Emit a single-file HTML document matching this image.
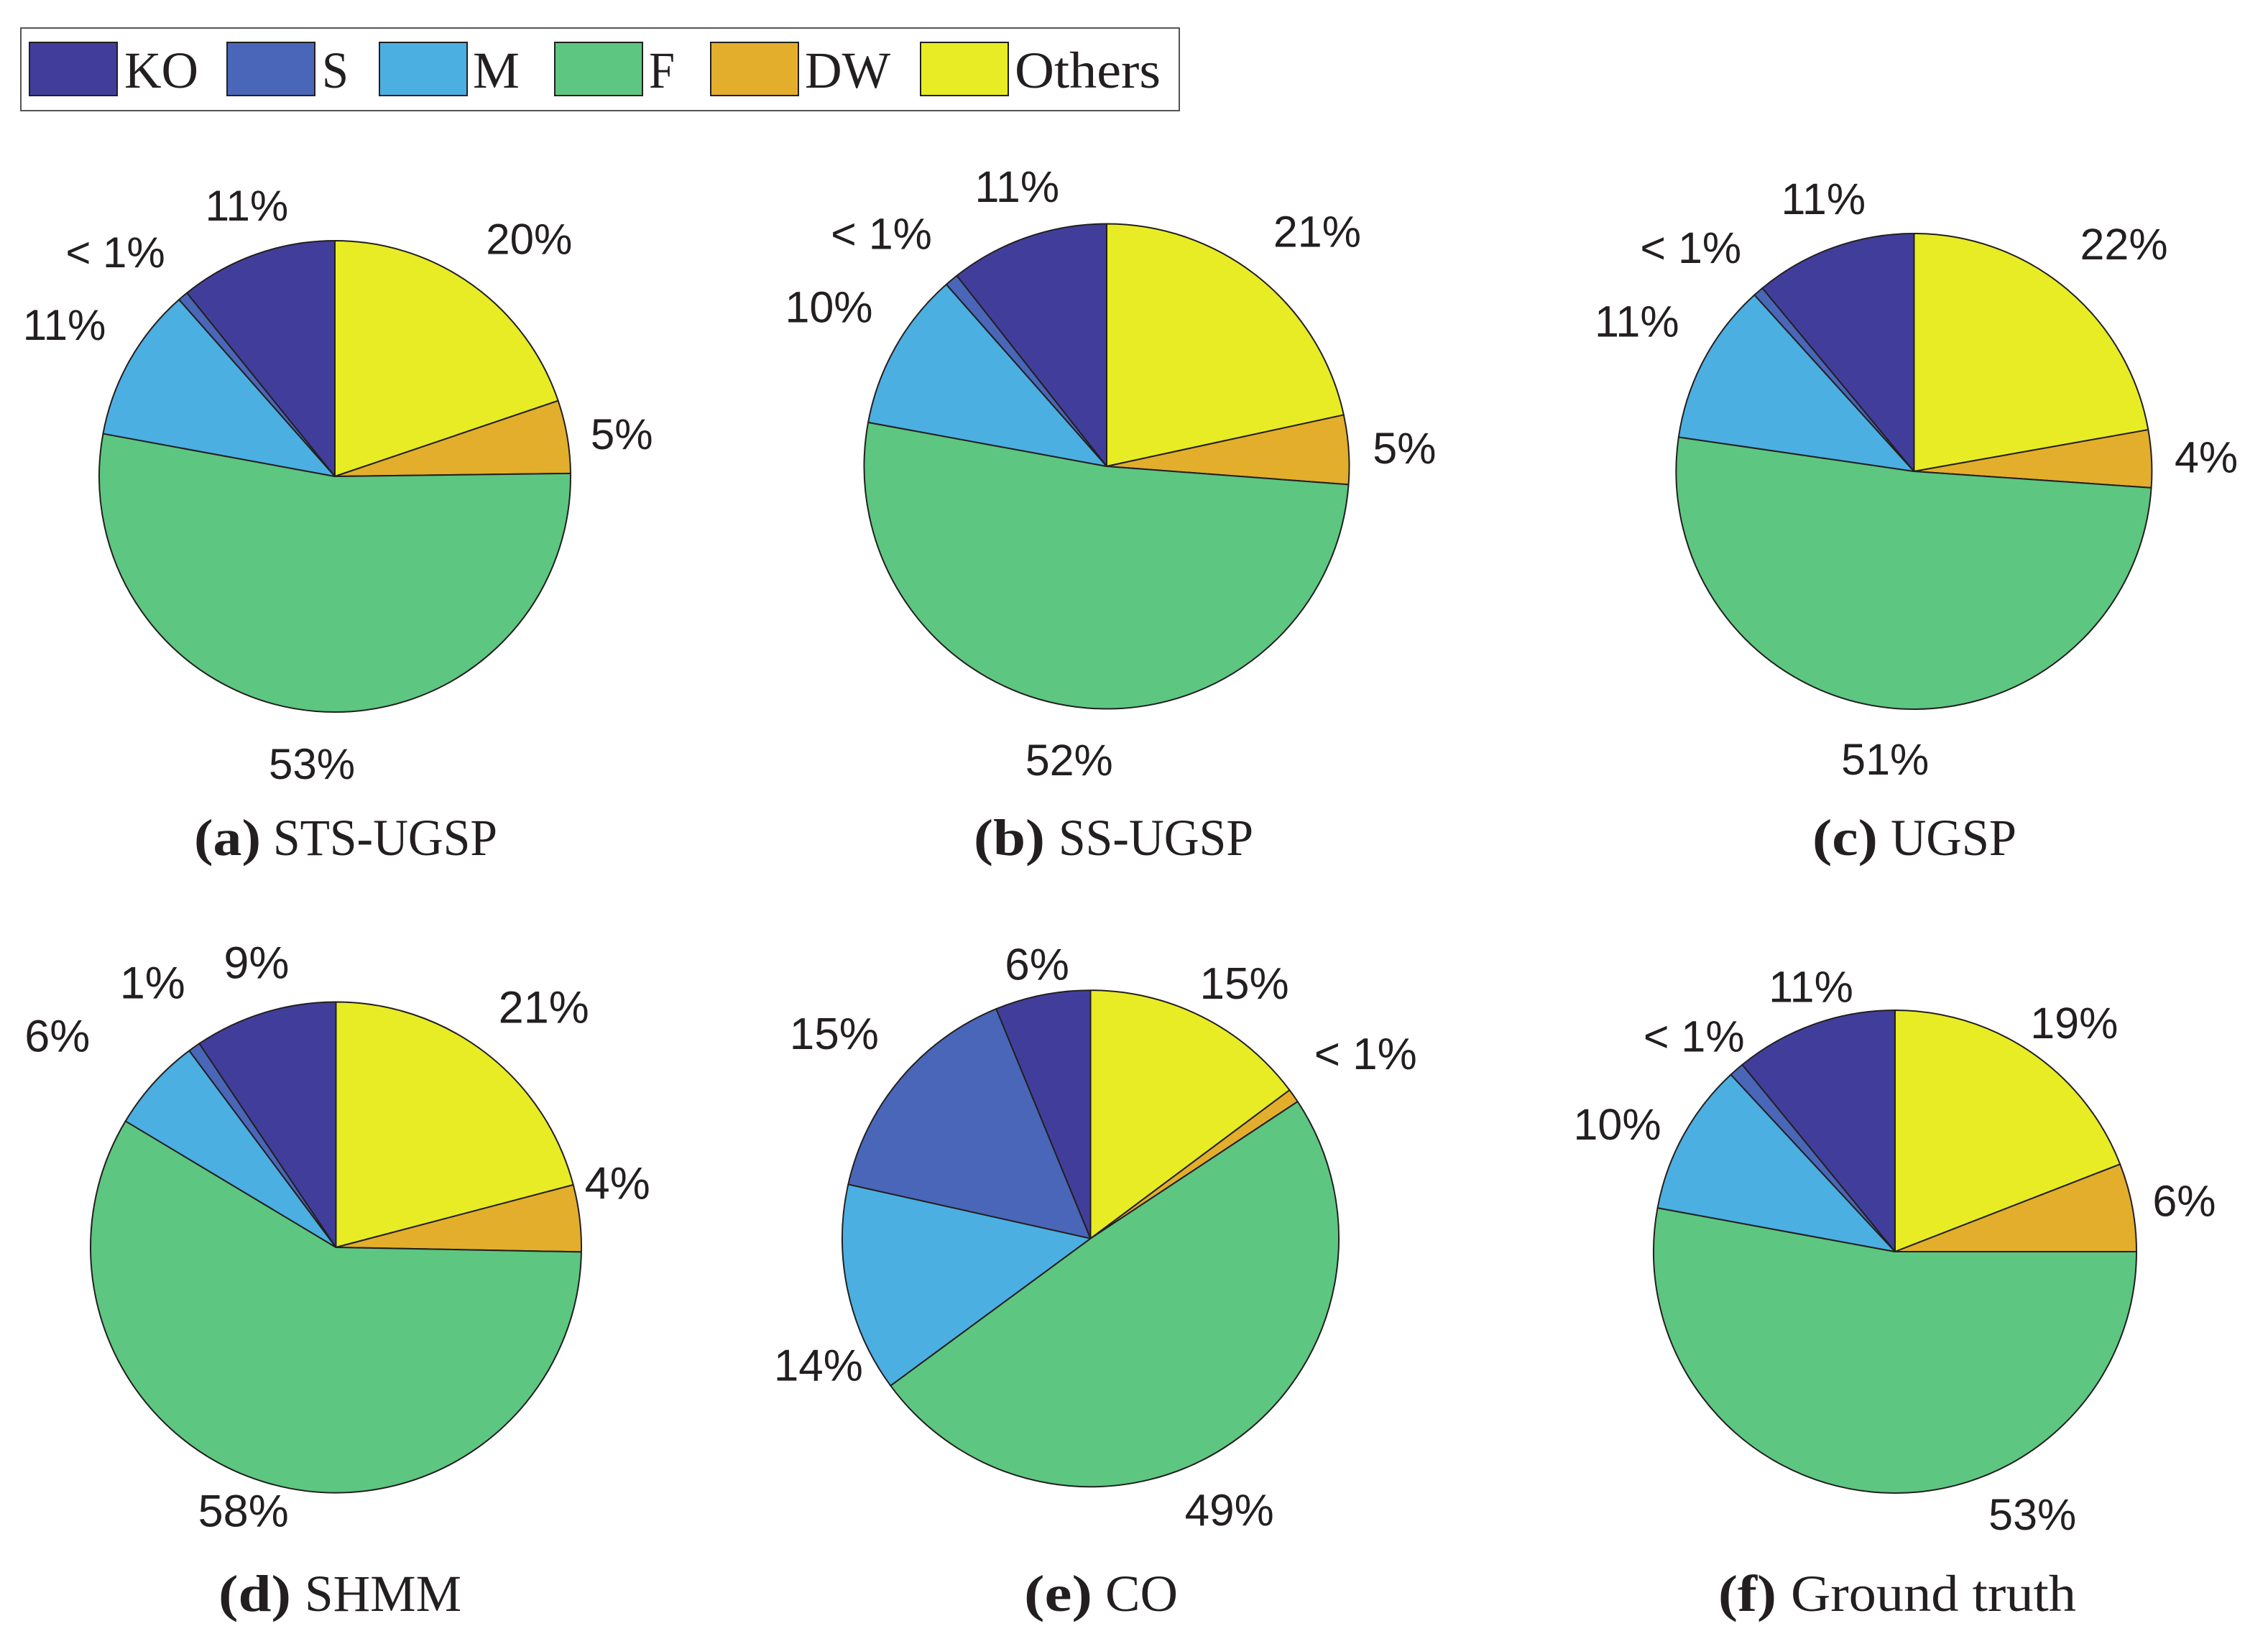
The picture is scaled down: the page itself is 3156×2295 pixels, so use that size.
<!DOCTYPE html>
<html lang="en">
<head>
<meta charset="utf-8">
<title>Pie charts of segment share by method</title>
<style>
html,body{margin:0;padding:0;background:#fff;}
svg{display:block;}
.pct{font-family:"Liberation Sans",Arial,sans-serif;font-size:60px;fill:#231f20;text-anchor:middle;dominant-baseline:central;}
.cap{font-family:"Liberation Serif",serif;font-size:72px;fill:#231f20;}
.capb{font-weight:bold;}
.leg{font-family:"Liberation Serif",serif;font-size:72px;fill:#231f20;}
</style>
</head>
<body>
<svg id="chart" xmlns="http://www.w3.org/2000/svg" width="3156" height="2295" viewBox="0 0 3156 2295">
  <rect x="0" y="0" width="3156" height="2295" fill="#ffffff"/>
  <g>
    <rect x="29" y="39" width="1612" height="115" fill="#fff" stroke="#555" stroke-width="2"/>
    <rect x="41" y="59" width="122" height="74" fill="#413e9b" stroke="#231f20" stroke-width="2"/>
    <text class="leg" x="173" y="122" textLength="103" lengthAdjust="spacingAndGlyphs">KO</text>
    <rect x="316" y="59" width="122" height="74" fill="#4966b8" stroke="#231f20" stroke-width="2"/>
    <text class="leg" x="448" y="122" textLength="37" lengthAdjust="spacingAndGlyphs">S</text>
    <rect x="528" y="59" width="122" height="74" fill="#4bafe2" stroke="#231f20" stroke-width="2"/>
    <text class="leg" x="658" y="122" textLength="65" lengthAdjust="spacingAndGlyphs">M</text>
    <rect x="772" y="59" width="122" height="74" fill="#5dc680" stroke="#231f20" stroke-width="2"/>
    <text class="leg" x="903" y="122" textLength="36" lengthAdjust="spacingAndGlyphs">F</text>
    <rect x="989" y="59" width="122" height="74" fill="#e3ae2b" stroke="#231f20" stroke-width="2"/>
    <text class="leg" x="1120" y="122" textLength="119" lengthAdjust="spacingAndGlyphs">DW</text>
    <rect x="1281" y="59" width="122" height="74" fill="#e8ec24" stroke="#231f20" stroke-width="2"/>
    <text class="leg" x="1412" y="122" textLength="203" lengthAdjust="spacingAndGlyphs">Others</text>
  </g>
  <g id="pies"></g>
  <g>
    <text class="cap capb" x="270" y="1190" textLength="93" lengthAdjust="spacingAndGlyphs">(a)</text>
    <text class="cap" x="380" y="1190" textLength="312" lengthAdjust="spacingAndGlyphs">STS-UGSP</text>
    <text class="cap capb" x="1355" y="1190" textLength="99" lengthAdjust="spacingAndGlyphs">(b)</text>
    <text class="cap" x="1473" y="1190" textLength="271" lengthAdjust="spacingAndGlyphs">SS-UGSP</text>
    <text class="cap capb" x="2522" y="1190" textLength="91" lengthAdjust="spacingAndGlyphs">(c)</text>
    <text class="cap" x="2631" y="1190" textLength="175" lengthAdjust="spacingAndGlyphs">UGSP</text>
    <text class="cap capb" x="304" y="2242" textLength="101" lengthAdjust="spacingAndGlyphs">(d)</text>
    <text class="cap" x="424" y="2242" textLength="218" lengthAdjust="spacingAndGlyphs">SHMM</text>
    <text class="cap capb" x="1425" y="2242" textLength="95" lengthAdjust="spacingAndGlyphs">(e)</text>
    <text class="cap" x="1538" y="2242" textLength="101" lengthAdjust="spacingAndGlyphs">CO</text>
    <text class="cap capb" x="2391" y="2242" textLength="81" lengthAdjust="spacingAndGlyphs">(f)</text>
    <text class="cap" x="2492" y="2242" textLength="397" lengthAdjust="spacingAndGlyphs">Ground truth</text>
  </g>
</svg>
<script>
// Slice order runs clockwise from 12 o'clock.
const categories = ['Others', 'DW', 'F', 'M', 'S', 'KO'];
const panelIds = ['a', 'b', 'c', 'd', 'e', 'f'];

// Estimated share of each slice, per panel.
const valuesA = [19.8, 5.0, 53.1, 10.6, 0.7, 10.8];
const valuesB = [21.6, 4.6, 51.7, 10.6, 0.9, 10.6];
const valuesC = [22.2, 3.9, 51.2, 11.0, 0.7, 11.0];
const valuesD = [20.9, 4.4, 58.3, 6.2, 0.8, 9.4];
const valuesE = [14.8, 0.9, 49.2, 13.6, 15.3, 6.2];
const valuesF = [19.1, 5.9, 52.9, 10.2, 1.0, 10.9];

// Printed labels, per panel.
const labelsA = ['20%', '5%', '53%', '11%', '< 1%', '11%'];
const labelsB = ['21%', '5%', '52%', '10%', '< 1%', '11%'];
const labelsC = ['22%', '4%', '51%', '11%', '< 1%', '11%'];
const labelsD = ['21%', '4%', '58%', '6%', '1%', '9%'];
const labelsE = ['15%', '< 1%', '49%', '14%', '15%', '6%'];
const labelsF = ['19%', '6%', '53%', '10%', '< 1%', '11%'];

const seriesValues = [valuesA, valuesB, valuesC, valuesD, valuesE, valuesF];
const seriesLabels = [labelsA, labelsB, labelsC, labelsD, labelsE, labelsF];

// Layout only (not data).
const colors = {Others: '#e8ec24', DW: '#e3ae2b', F: '#5dc680', M: '#4bafe2', S: '#4966b8', KO: '#413e9b'};
const panelLayout = [
  {cx: 466,    cy: 663,  r: 328,   fs: 60, k: [1.30, 1.23, 1.225, 1.315, 1.33, 1.207], turn: [3.7, 1.4, -0.3, -0.3, -4.3, 1.4]},
  {cx: 1540,   cy: 649,  r: 337.5, fs: 61, k: [1.30, 1.23, 1.222, 1.32, 1.335, 1.21], turn: [3.0, 0.5, -0.1, 0.3, -4.3, 1.3]},
  {cx: 2663.4, cy: 656,  r: 331,   fs: 61, k: [1.30, 1.23, 1.218, 1.324, 1.328, 1.207], turn: [2.8, 0.3, -0.4, 0.3, -4.1, 1.4]},
  {cx: 467.5,  cy: 1736, r: 341.5, fs: 63, k: [1.293, 1.176, 1.14, 1.424, 1.31, 1.203], turn: [3.3, -5.9, 3.3, -5.0, 0.5, 1.3]},
  {cx: 1517.5, cy: 1723.7, r: 345.5, fs: 62, k: [1.198, 1.333, 1.231, 1.21, 1.32, 1.123], turn: [4.5, 1.3, 7.9, -13.2, -1.6, 0.1]},
  {cx: 2637,   cy: 1742, r: 336,   fs: 61, k: [1.203, 1.216, 1.229, 1.265, 1.22, 1.15], turn: [3.7, 0.7, -32.8, -4.2, -2.0, 2.0]}
];

const SVG_NS = 'http://www.w3.org/2000/svg';
const root = document.getElementById('pies');

function polar(layout, deg, radius) {
  const t = deg * Math.PI / 180;
  return [layout.cx + radius * Math.sin(t), layout.cy - radius * Math.cos(t)];
}

function slicePath(layout, a0, a1) {
  const p0 = polar(layout, a0, layout.r);
  const p1 = polar(layout, a1, layout.r);
  const large = a1 - a0 > 180 ? 1 : 0;
  return 'M' + layout.cx + ' ' + layout.cy + 'L' + p0[0] + ' ' + p0[1] +
    'A' + layout.r + ' ' + layout.r + ' 0 ' + large + ' 1 ' + p1[0] + ' ' + p1[1] + 'Z';
}

seriesValues.forEach(function (values, pi) {
  const layout = panelLayout[pi];
  const printed = seriesLabels[pi];
  const total = values.reduce(function (s, v) { return s + v; }, 0);
  const group = document.createElementNS(SVG_NS, 'g');
  
  
  root.appendChild(group);
  let angle = 0;
  values.forEach(function (v, i) {
    const sweep = v / total * 360;
    const path = document.createElementNS(SVG_NS, 'path');
    path.setAttribute('d', slicePath(layout, angle, angle + sweep));
    path.setAttribute('fill', colors[categories[i]]);
    path.setAttribute('stroke', '#231f20');
    path.setAttribute('stroke-width', '2');
    path.setAttribute('stroke-linejoin', 'round');
    
    
    group.appendChild(path);
    const mid = angle + sweep / 2 + layout.turn[i];
    const pos = polar(layout, mid, layout.r * layout.k[i]);
    const text = document.createElementNS(SVG_NS, 'text');
    text.setAttribute('class', 'pct');
    text.setAttribute('x', pos[0]);
    text.setAttribute('y', pos[1]);
    text.setAttribute('font-size', layout.fs);
    text.style.fontSize = layout.fs + 'px';
    
    
    text.textContent = printed[i];
    group.appendChild(text);
    angle += sweep;
  });
});
</script>
</body>
</html>
